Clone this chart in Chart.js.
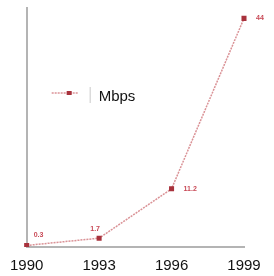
<!DOCTYPE html>
<html><head><meta charset="utf-8">
<script src="https://cdn.jsdelivr.net/npm/chart.js@4"></script>
<style>html,body{margin:0;padding:0;background:#fff}#wrap{width:274px;height:276px}</style>
</head><body><div id="wrap"><canvas id="c"></canvas></div>
<script>
const years = ['1990', '1993', '1996', '1999'];
const mbps = [0.3, 1.7, 11.2, 44];
const pointLabels = ['0.3', '1.7', '11.2', '44'];
const seriesName = 'Mbps';

const lineColor = 'rgba(205,110,115,0.75)';
const markColor = '#a8323c';

const valueLabels = {
  id: 'valueLabels',
  afterDatasetsDraw(chart) {
    const ctx = chart.ctx;
    const meta = chart.getDatasetMeta(0);
    ctx.save();
    ctx.font = 'bold 7px "Liberation Sans", Arial, sans-serif';
    ctx.fillStyle = 'rgba(190,40,55,0.85)';
    ctx.textBaseline = 'middle';
    const offs = [[7, -10, 'left'], [-4, -9, 'center'], [12, 0, 'left'], [12, 0, 'left']];
    meta.data.forEach((p, i) => {
      const o = offs[i];
      ctx.textAlign = o[2];
      ctx.fillText(pointLabels[i], p.x + o[0], p.y + o[1]);
    });
    const a = chart.chartArea;
    const ly = a.top + 85;
    ctx.strokeStyle = lineColor;
    ctx.lineWidth = 1.5;
    ctx.setLineDash([2, 1]);
    ctx.beginPath(); ctx.moveTo(a.left + 25, ly); ctx.lineTo(a.left + 52, ly); ctx.stroke();
    ctx.setLineDash([]);
    ctx.fillStyle = markColor;
    ctx.fillRect(a.left + 40, ly - 2, 5, 4);
    ctx.strokeStyle = 'rgba(150,150,150,0.5)';
    ctx.lineWidth = 1;
    ctx.beginPath(); ctx.moveTo(a.left + 63.5, ly - 6); ctx.lineTo(a.left + 63.5, ly + 10); ctx.stroke();
    ctx.fillStyle = '#111';
    ctx.font = '15px "Liberation Sans", Arial, sans-serif';
    ctx.textAlign = 'left';
    ctx.fillText(seriesName, a.left + 72, ly + 4);
    ctx.restore();
  }
};

new Chart(document.getElementById('c'), {
  type: 'line',
  data: {
    labels: years,
    datasets: [{
      label: seriesName,
      data: mbps,
      borderColor: lineColor,
      borderWidth: 1.5,
      borderDash: [2, 1],
      pointStyle: 'rect',
      pointRadius: 2.5,
      pointBackgroundColor: markColor,
      pointBorderColor: markColor,
      tension: 0
    }]
  },
  options: {
    responsive: true,
    maintainAspectRatio: false,
    animation: false,
    layout: { padding: { left: 8, right: 30, top: 8, bottom: -9 } },
    plugins: { legend: { display: false }, tooltip: { enabled: false } },
    scales: {
      x: {
        offset: false,
        grid: { display: false, drawTicks: false },
        border: { color: '#b4b4b4', width: 2 },
        ticks: { color: '#111', font: { family: '"Liberation Sans", Arial, sans-serif', size: 15 }, padding: 10, maxRotation: 0 }
      },
      y: {
        min: 0, max: 46,
        grid: { display: false, drawTicks: false },
        border: { color: '#b4b4b4', width: 2 },
        ticks: { display: false }
      }
    }
  },
  plugins: [valueLabels]
});
</script></body></html>
